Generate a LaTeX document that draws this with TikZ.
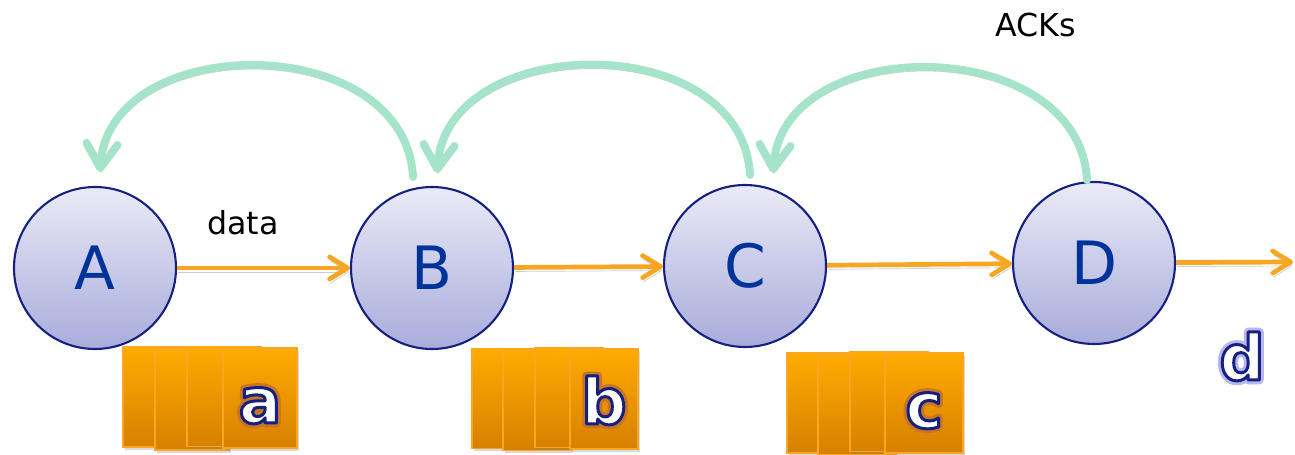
\documentclass[tikz,border=0pt]{standalone}
\usepackage{fontspec}
\setmainfont{DejaVu Sans}
\usepackage{xcolor}
\usepackage{tikz}
\usetikzlibrary{positioning,arrows.meta,shadows}

\definecolor{stationedge}{RGB}{22,32,128}
\definecolor{stationtop}{RGB}{234,234,247}
\definecolor{stationbot}{RGB}{168,172,218}
\definecolor{stationtext}{RGB}{0,51,153}
\definecolor{dataline}{RGB}{247,166,35}
\definecolor{ackline}{RGB}{166,227,203}
\definecolor{lineshadow}{RGB}{205,205,205}
\definecolor{pkttop}{RGB}{255,171,0}
\definecolor{pktbot}{RGB}{214,128,0}
\definecolor{pktedge}{RGB}{250,166,32}
\definecolor{pktglow}{RGB}{200,118,36}
\definecolor{dglow}{RGB}{184,184,236}

\newcommand{\pktlabel}[2]{{%
	\rlap{\color{#1}\special{pdf:literal direct 2 Tr 5 w 1 j}#2\special{pdf:literal direct 0 Tr}}%
	\color{white}\special{pdf:literal direct 2 Tr 1.7 w 1 j 0.086 0.125 0.502 RG}#2%
	\special{pdf:literal direct 0 Tr}}}

\tikzset{
	station/.style={circle, draw=stationedge, line width=1.2pt, top color=stationtop, bottom color=stationbot,
		minimum size=3.24cm, inner sep=0pt, text=stationtext, font=\fontsize{34}{34}\selectfont},
	lineshade/.style={preaction={draw=lineshadow, transform canvas={xshift=0.02cm, yshift=-0.08cm}}},
	data/.style={draw=dataline, line width=0.094cm, lineshade, -{Straight Barb[length=0.36cm,width=0.44cm,round]}},
	ack/.style={draw=ackline, line width=0.16cm, line cap=round, lineshade, -{Straight Barb[length=0.48cm,width=0.62cm,round]}},
	packet/.style={rectangle, draw=pktedge, line width=1pt, top color=pkttop, bottom color=pktbot,
		minimum height=2cm, inner sep=0pt, text height=1cm, text depth=0pt,
		drop shadow={opacity=0.3, shadow xshift=0.04cm, shadow yshift=-0.06cm},
		font=\fontsize{36}{36}\selectfont\bfseries}
}

\begin{document}
\begin{tikzpicture}[auto, font=\fontsize{18}{18}\selectfont]
		\useasboundingbox (0,0) rectangle (25.9,9.1);

		\node[station] (A) at (1.90,3.74) {A};
		\node[station] (B) at (8.64,3.74) {B};
		\node[station] (C) at (14.90,3.78) {C};
		\node[station] (D) at (21.88,3.84) {D};
		\coordinate (out) at (25.86,3.86);

		\path (A) edge[data] node[pos=0.38, above=0.5cm] {data} (B);
		\path (B) edge[data] (C);
		\path (C) edge[data] (D);
		\path (D) edge[data] (out);

		\draw[ack] ([xshift=-0.38cm, yshift=0.18cm]B.north) .. controls +(-0.16,2.94) and +(0.2,2.84) .. ([xshift=0.10cm, yshift=0.28cm]A.north);
		\draw[ack] ([xshift=0.10cm, yshift=0.18cm]C.north) .. controls +(-0.16,2.94) and +(0.2,2.84) .. ([xshift=0.10cm, yshift=0.26cm]B.north);
		\draw[ack] ([xshift=-0.14cm, yshift=0.02cm]D.north) .. controls +(-0.16,2.94) and +(0.2,2.84) .. ([xshift=0.56cm, yshift=0.22cm]C.north);
		\node (acks) at (20.72,8.60) {ACKs};

		\node[packet, minimum width=1.48cm] (a1) at (3.20,1.16) {};
		\node[packet, minimum width=1.48cm] (a2) at (3.84,1.10) {};
		\node[packet, minimum width=1.48cm] (a3) at (4.48,1.17) {};
		\node[packet, minimum width=1.48cm] (a4) at (5.20,1.14) {\pktlabel{pktglow}{a}};

		\node[packet, minimum width=1.36cm] (b1) at (10.12,1.13) {};
		\node[packet, minimum width=1.36cm] (b2) at (10.74,1.09) {};
		\node[packet, minimum width=1.36cm] (b3) at (11.38,1.15) {};
		\node[packet, minimum width=1.36cm] (b4) at (12.08,1.12) {\pktlabel{pktglow}{b}};

		\node[packet, minimum width=1.56cm] (c1) at (16.52,1.04) {};
		\node[packet, minimum width=1.56cm] (c2) at (17.14,1.00) {};
		\node[packet, minimum width=1.56cm] (c3) at (17.78,1.07) {};
		\node[packet, minimum width=1.56cm] (c4) at (18.48,1.04) {\pktlabel{pktglow}{c}};

		\node[anchor=base, font=\fontsize{36}{36}\selectfont\bfseries] (dlabel) at (24.84,1.50) {\pktlabel{dglow}{d}};
	\end{tikzpicture}
\end{document}
